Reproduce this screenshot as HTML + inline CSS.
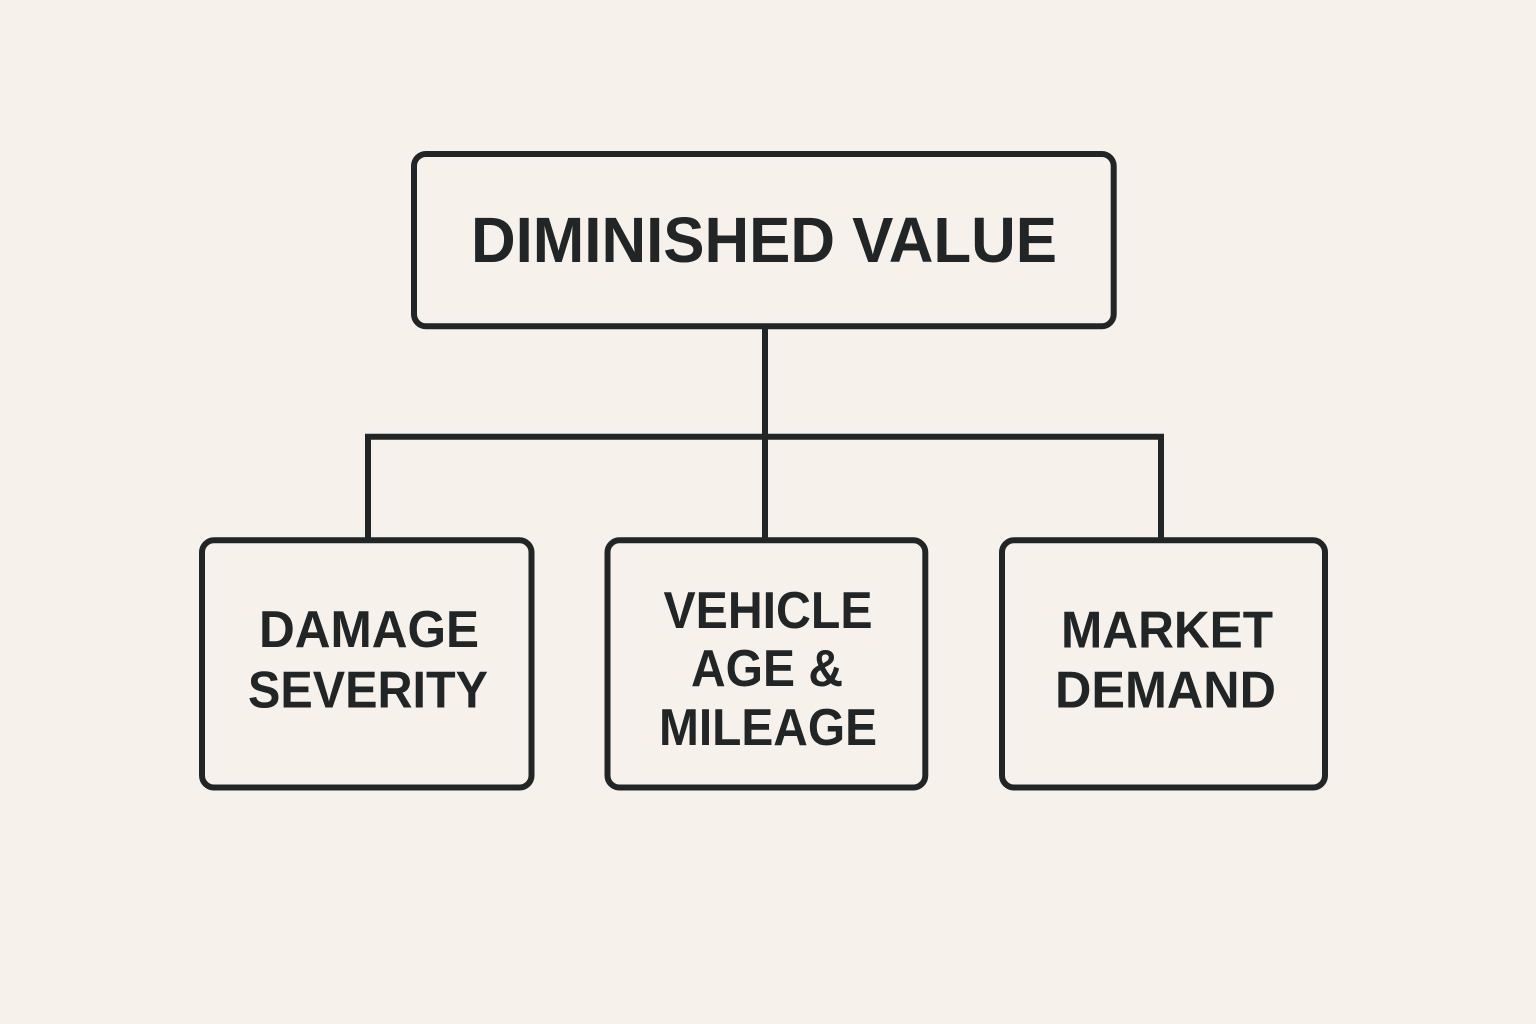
<!DOCTYPE html>
<html>
<head>
<meta charset="utf-8">
<style>
html,body{margin:0;padding:0;background:#f6f1eb;}
svg{display:block;}
text{font-family:"Liberation Sans",sans-serif;font-weight:700;fill:#212526;}
</style>
</head>
<body>
<svg width="1536" height="1024" viewBox="0 0 1536 1024" xmlns="http://www.w3.org/2000/svg">
<rect width="1536" height="1024" fill="#f6f1eb"/>
<g fill="none" stroke="#212526" stroke-width="6">
<rect x="414" y="154" width="699.7" height="172.3" rx="12"/>
<rect x="202" y="540.3" width="329.5" height="247.2" rx="12"/>
<rect x="607.5" y="540.3" width="317.8" height="247.2" rx="12"/>
<rect x="1002" y="540.3" width="323" height="247.2" rx="12"/>
<path d="M765 326V540M368 540V436.8H1161V540"/>
</g>
<text x="764" y="262" font-size="64" text-anchor="middle" textLength="586" lengthAdjust="spacingAndGlyphs">DIMINISHED VALUE</text>
<text x="369" y="647" font-size="52" text-anchor="middle" textLength="220" lengthAdjust="spacingAndGlyphs">DAMAGE</text>
<text x="368" y="707.5" font-size="52" text-anchor="middle" textLength="240" lengthAdjust="spacingAndGlyphs">SEVERITY</text>
<text x="768" y="628" font-size="52" text-anchor="middle" textLength="209" lengthAdjust="spacingAndGlyphs">VEHICLE</text>
<text x="767" y="686" font-size="52" text-anchor="middle" textLength="152" lengthAdjust="spacingAndGlyphs">AGE &amp;</text>
<text x="768" y="745" font-size="52" text-anchor="middle" textLength="218" lengthAdjust="spacingAndGlyphs">MILEAGE</text>
<text x="1167" y="647.5" font-size="52" text-anchor="middle" textLength="212" lengthAdjust="spacingAndGlyphs">MARKET</text>
<text x="1165.5" y="707.5" font-size="52" text-anchor="middle" textLength="221" lengthAdjust="spacingAndGlyphs">DEMAND</text>
</svg>
</body>
</html>
